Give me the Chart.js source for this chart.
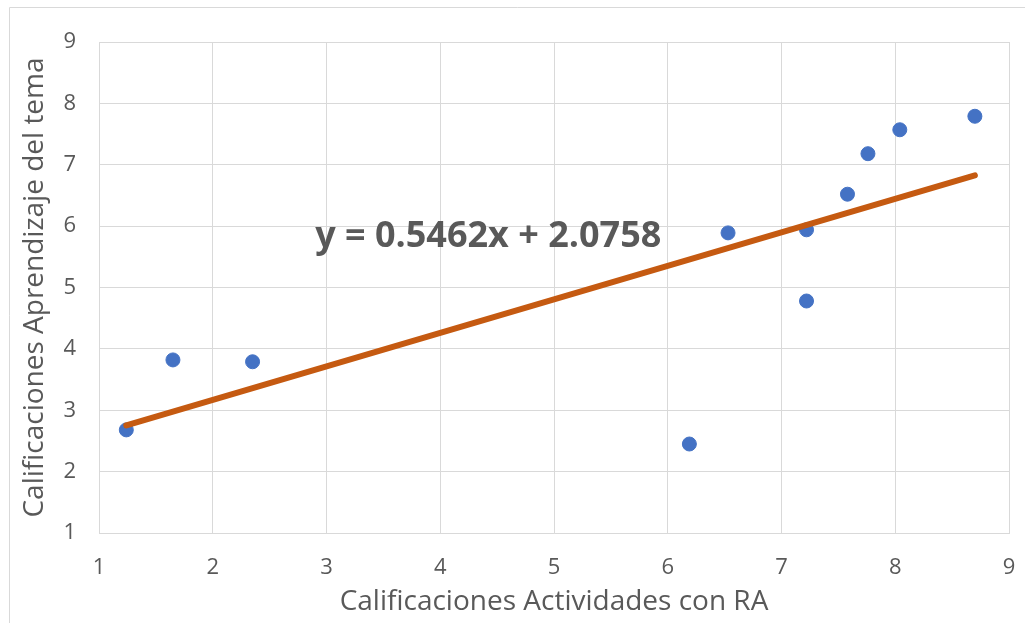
<!DOCTYPE html>
<html>
<head>
<meta charset="utf-8">
<script src="https://cdn.jsdelivr.net/npm/chart.js@4/dist/chart.umd.min.js"></script>
<style>
  html, body { margin: 0; padding: 0; background: #fff; }
  #wrap { width: 1025px; height: 623px; position: relative; }
</style>
</head>
<body>
<div id="wrap"><canvas id="chart"></canvas></div>
<script>
// ===== Data =====
const actividadesRA = [1.24, 1.65, 2.35, 6.19, 6.53, 7.22, 7.22, 7.58, 7.76, 8.04, 8.70];
const aprendizajeTema = [2.68, 3.82, 3.79, 2.45, 5.89, 5.94, 4.78, 6.52, 7.18, 7.57, 7.79];
const axisTicks = [1, 2, 3, 4, 5, 6, 7, 8, 9];
const trendSlope = 0.5462;
const trendIntercept = 2.0758;
const trendLabel = 'y = 0.5462x + 2.0758';

const xMin = Math.min(...actividadesRA);
const xMax = Math.max(...actividadesRA);
const trendPoints = [xMin, xMax].map(x => ({ x: x, y: trendSlope * x + trendIntercept }));

const fontFamily = "'Open Sans', sans-serif";
const textColor = '#595959';
const gridColor = '#d9d9d9';

// ===== Plugins =====
const frame = {
  id: 'frame',
  beforeDraw(chart) {
    const ctx = chart.ctx;
    ctx.save();
    ctx.strokeStyle = '#d9d9d9';
    ctx.lineWidth = 1;
    ctx.beginPath();
    ctx.moveTo(9.5, 623);
    ctx.lineTo(9.5, 7.5);
    ctx.lineTo(1025, 7.5);
    ctx.stroke();
    ctx.restore();
  }
};

const equation = {
  id: 'equation',
  afterDatasetsDraw(chart) {
    const ctx = chart.ctx;
    const x = chart.scales.x.getPixelForValue(2.9);
    const y = chart.scales.y.getPixelForValue(5.82);
    ctx.save();
    ctx.font = "bold 36px 'Open Sans', sans-serif";
    ctx.fillStyle = textColor;
    ctx.textAlign = 'left';
    ctx.textBaseline = 'middle';
    ctx.fillText(trendLabel, x, y);
    ctx.restore();
  }
};

// ===== Chart =====
Chart.defaults.font.family = fontFamily;
Chart.defaults.color = textColor;

new Chart(document.getElementById('chart').getContext('2d'), {
  type: 'scatter',
  data: {
    datasets: [
      {
        label: 'Aprendizaje',
        data: actividadesRA.map((x, i) => ({ x: x, y: aprendizajeTema[i] })),
        backgroundColor: '#4472c4',
        borderColor: '#4472c4',
        pointRadius: 7,
        pointHoverRadius: 7,
        order: 2,
      },
      {
        type: 'line',
        label: 'Tendencia',
        data: trendPoints,
        borderColor: '#c55a11',
        borderWidth: 6,
        borderCapStyle: 'round',
        pointRadius: 0,
        fill: false,
        order: 1,
      },
    ],
  },
  options: {
    responsive: true,
    maintainAspectRatio: false,
    animation: false,
    layout: { padding: { top: 42, right: 16, left: 18, bottom: 4 } },
    plugins: {
      legend: { display: false },
      tooltip: { enabled: false },
    },
    scales: {
      x: {
        type: 'linear',
        min: axisTicks[0],
        max: axisTicks[axisTicks.length - 1],
        afterBuildTicks: axis => { axis.ticks = axisTicks.map(v => ({ value: v })); },
        grid: { color: gridColor, tickLength: 19, tickColor: 'rgba(0,0,0,0)' },
        border: { color: gridColor },
        ticks: { padding: 3, font: { size: 22 }, color: textColor },
        title: {
          display: true,
          text: 'Calificaciones Actividades con RA',
          font: { size: 28 },
          color: textColor,
          padding: { top: 0, bottom: 0 },
        },
        afterFit: axis => { axis.height = 86; },
      },
      y: {
        type: 'linear',
        min: axisTicks[0],
        max: axisTicks[axisTicks.length - 1],
        afterBuildTicks: axis => { axis.ticks = axisTicks.map(v => ({ value: v })); },
        grid: { color: gridColor, tickLength: 20, tickColor: 'rgba(0,0,0,0)' },
        border: { color: gridColor },
        ticks: { padding: 3, font: { size: 22 }, color: textColor },
        title: {
          display: true,
          text: 'Calificaciones Aprendizaje del tema',
          font: { size: 28 },
          color: textColor,
          padding: { top: 0, bottom: 0 },
        },
        afterFit: axis => { axis.width = 81; },
      },
    },
  },
  plugins: [frame, equation],
});
</script>
</body>
</html>
